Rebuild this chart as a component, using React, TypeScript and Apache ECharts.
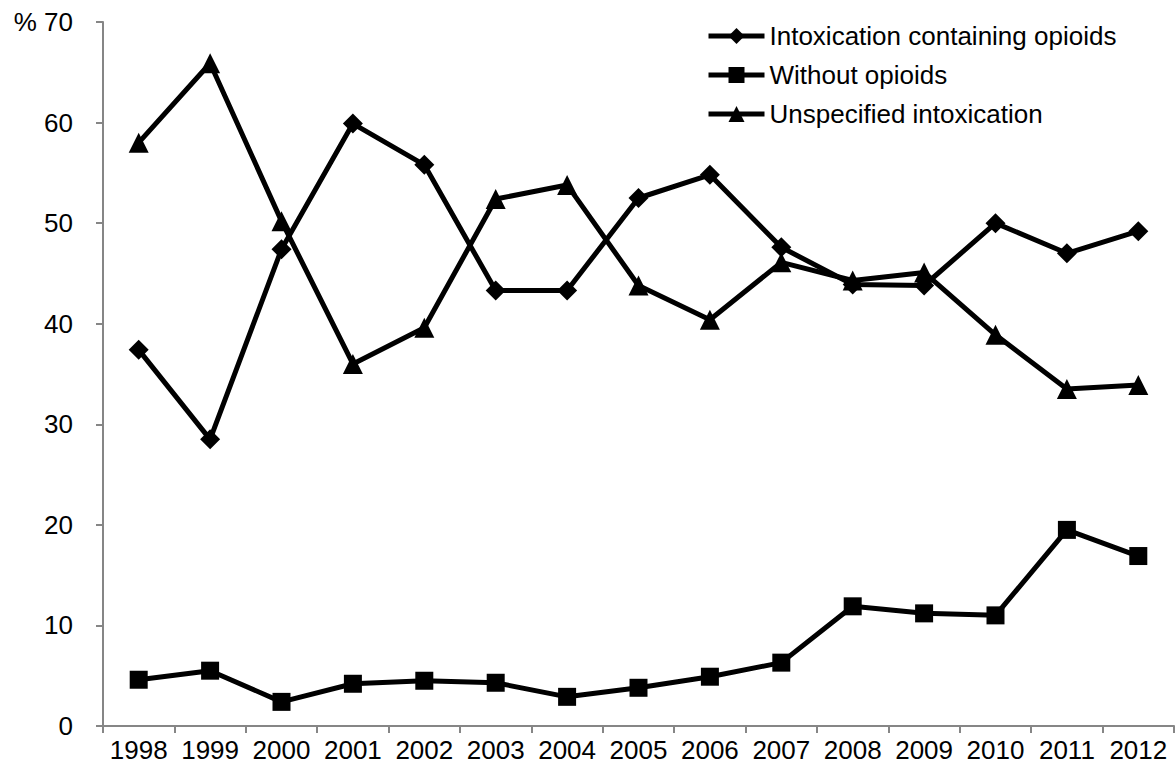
import React, { useEffect, useRef } from "react";
import * as echarts from "echarts";

const years = ["1998", "1999", "2000", "2001", "2002", "2003", "2004", "2005", "2006", "2007", "2008", "2009", "2010", "2011", "2012"];
const withOpioids = [37.4, 28.5, 47.4, 59.9, 55.8, 43.3, 43.3, 52.5, 54.8, 47.6, 43.9, 43.8, 50.0, 47.0, 49.2];
const withoutOpioids = [4.6, 5.5, 2.4, 4.2, 4.5, 4.3, 2.9, 3.8, 4.9, 6.3, 11.9, 11.2, 11.0, 19.5, 16.9];
const unspecified = [58.0, 65.9, 50.2, 36.0, 39.6, 52.4, 53.8, 43.8, 40.4, 46.1, 44.3, 45.1, 38.9, 33.5, 33.9];
const seriesNames = ["Intoxication containing opioids", "Without opioids", "Unspecified intoxication"];

const FONT = "'Liberation Sans', Arial, Helvetica, sans-serif";

export default function App() {
  const ref = useRef<HTMLDivElement>(null);
  useEffect(() => {
    if (!ref.current) return;
    const chart = echarts.init(ref.current, null, { renderer: "svg" });
    const mkSeries = (name: string, data: number[], symbol: string, size: number) => ({
      name,
      type: "line",
      data,
      symbol,
      symbolSize: size,
      showAllSymbol: true,
      lineStyle: { color: "#000", width: 5 },
      itemStyle: { color: "#000" },
      emphasis: { disabled: true },
    });
    chart.setOption({
      animation: false,
      backgroundColor: "#fff",
      textStyle: { fontFamily: FONT },
      grid: { left: 103, right: 1, top: 22, bottom: 43, containLabel: false },
      legend: {
        orient: "vertical",
        left: 701,
        top: 18,
        itemWidth: 56,
        itemHeight: 20,
        itemGap: 13,
        lineStyle: { width: 5, color: "#000" },
        itemStyle: { color: "#000" },
        textStyle: { fontSize: 26, color: "#000", fontFamily: FONT },
        data: seriesNames,
      },
      xAxis: {
        type: "category",
        data: years,
        boundaryGap: true,
        axisLine: { lineStyle: { color: "#868686", width: 2 } },
        axisTick: { show: true, length: 7, alignWithLabel: false, lineStyle: { color: "#868686", width: 2 } },
        axisLabel: { color: "#000", fontSize: 26, margin: 11, interval: 0, fontFamily: FONT },
        splitLine: { show: false },
      },
      yAxis: {
        type: "value",
        min: 0,
        max: 70,
        interval: 10,
        axisLine: { show: true, lineStyle: { color: "#868686", width: 2 } },
        axisTick: { show: true, length: 7, lineStyle: { color: "#868686", width: 2 } },
        axisLabel: {
          color: "#000",
          fontSize: 26,
          margin: 30,
          fontFamily: FONT,
          formatter: (v: number) => (v === 70 ? "% 70" : String(v)),
        },
        splitLine: { show: false },
      },
      series: [
        mkSeries(seriesNames[0], withOpioids, "diamond", 20),
        mkSeries(seriesNames[1], withoutOpioids, "rect", 18),
        mkSeries(seriesNames[2], unspecified, "triangle", 20),
      ],
    });
    return () => chart.dispose();
  }, []);
  return <div ref={ref} style={{ position: "absolute", left: 0, top: 0, width: 1175, height: 769 }} />;
}
